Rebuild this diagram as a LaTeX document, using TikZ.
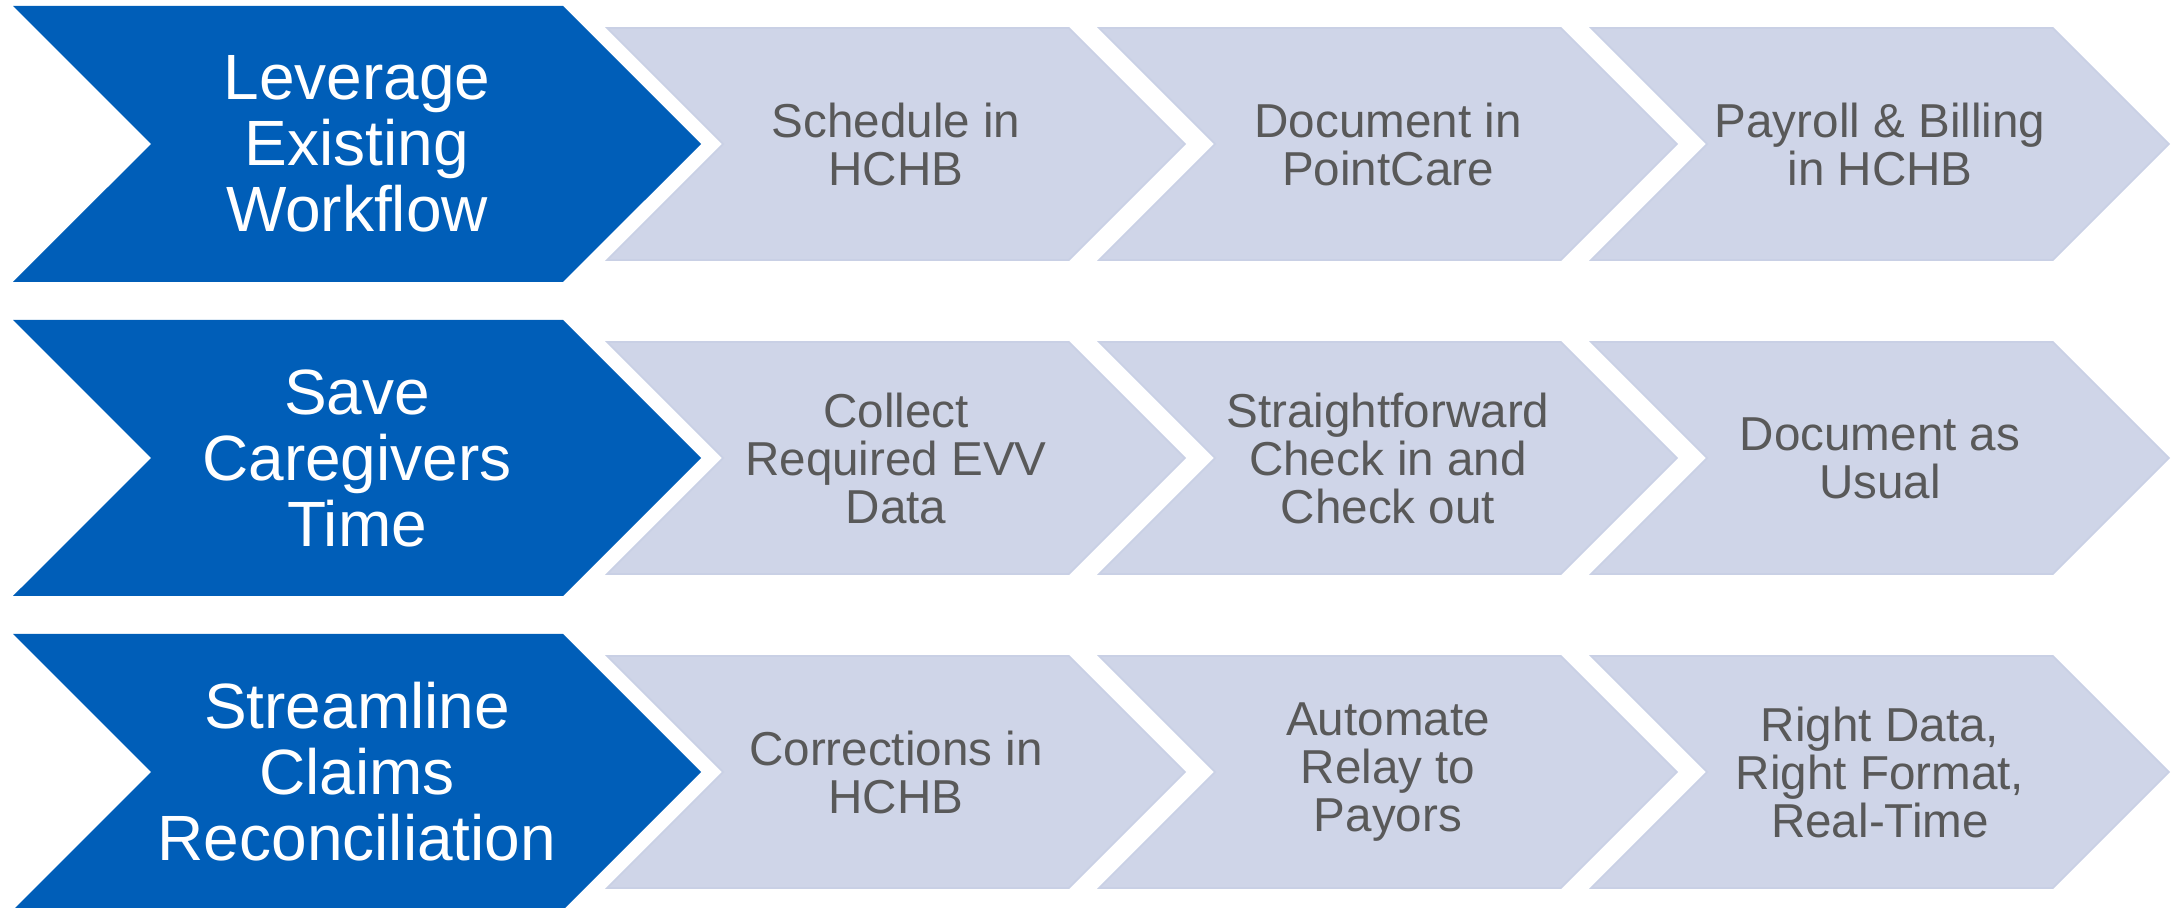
\documentclass[tikz,border=0pt]{standalone}
\usepackage{fontspec}
\setmainfont{Liberation Sans}
\usepackage{tikz}
\usetikzlibrary{positioning,shapes.symbols}
\definecolor{evvblue}{HTML}{005EB8}
\definecolor{evvgrey}{HTML}{CFD5E8}
\definecolor{evvedge}{HTML}{C9D0E5}
\definecolor{evvtext}{HTML}{595959}
\tikzset{bv/.style={signal,signal from=west,signal to=east,signal pointer angle=90,
fill=evvblue,draw=none,minimum width=344pt,minimum height=138pt,inner sep=0pt,
text=white,align=center,font=\fontsize{32}{33}\selectfont},
gv/.style={signal,signal from=west,signal to=east,signal pointer angle=90,
fill=evvgrey,draw=evvedge,line width=0.8pt,minimum width=289pt,minimum height=116pt,
inner sep=0pt,text=evvtext,align=center,font=\fontsize{23.8}{24}\selectfont}}

\begin{document}
\begin{tikzpicture}[x=0.5pt,y=-0.5pt]
		\useasboundingbox (0,0) rectangle (2179,908);
		% row 1
		\node[bv] (lev) at (357,144) {Leverage\\Existing\\Workflow};
		\node[gv] (sched) at (896,144) {Schedule in\\HCHB};
		\node[gv] (docpc) at (1388,144) {Document in\\PointCare};
		\node[gv] (payb) at (1880,144) {Payroll \& Billing\\in HCHB};
		% row 2
		\node[bv] (save) at (357,458) {Save\\Caregivers\\Time};
		\node[gv] (collect) at (896,458) {Collect\\Required EVV\\Data};
		\node[gv] (checkin) at (1388,458) {Straightforward\\Check in and\\Check out};
		\node[gv] (usual) at (1880,458) {Document as\\Usual};
		% row 3
		\node[bv] (stream) at (357,772) {Streamline\\Claims\\Reconciliation};
		\node[gv] (corr) at (896,772) {Corrections in\\HCHB};
		\node[gv] (relay) at (1388,772) {Automate\\Relay to\\Payors};
		\node[gv] (rightd) at (1880,772) {Right Data,\\Right Format,\\Real-Time};
	\end{tikzpicture}
\end{document}
